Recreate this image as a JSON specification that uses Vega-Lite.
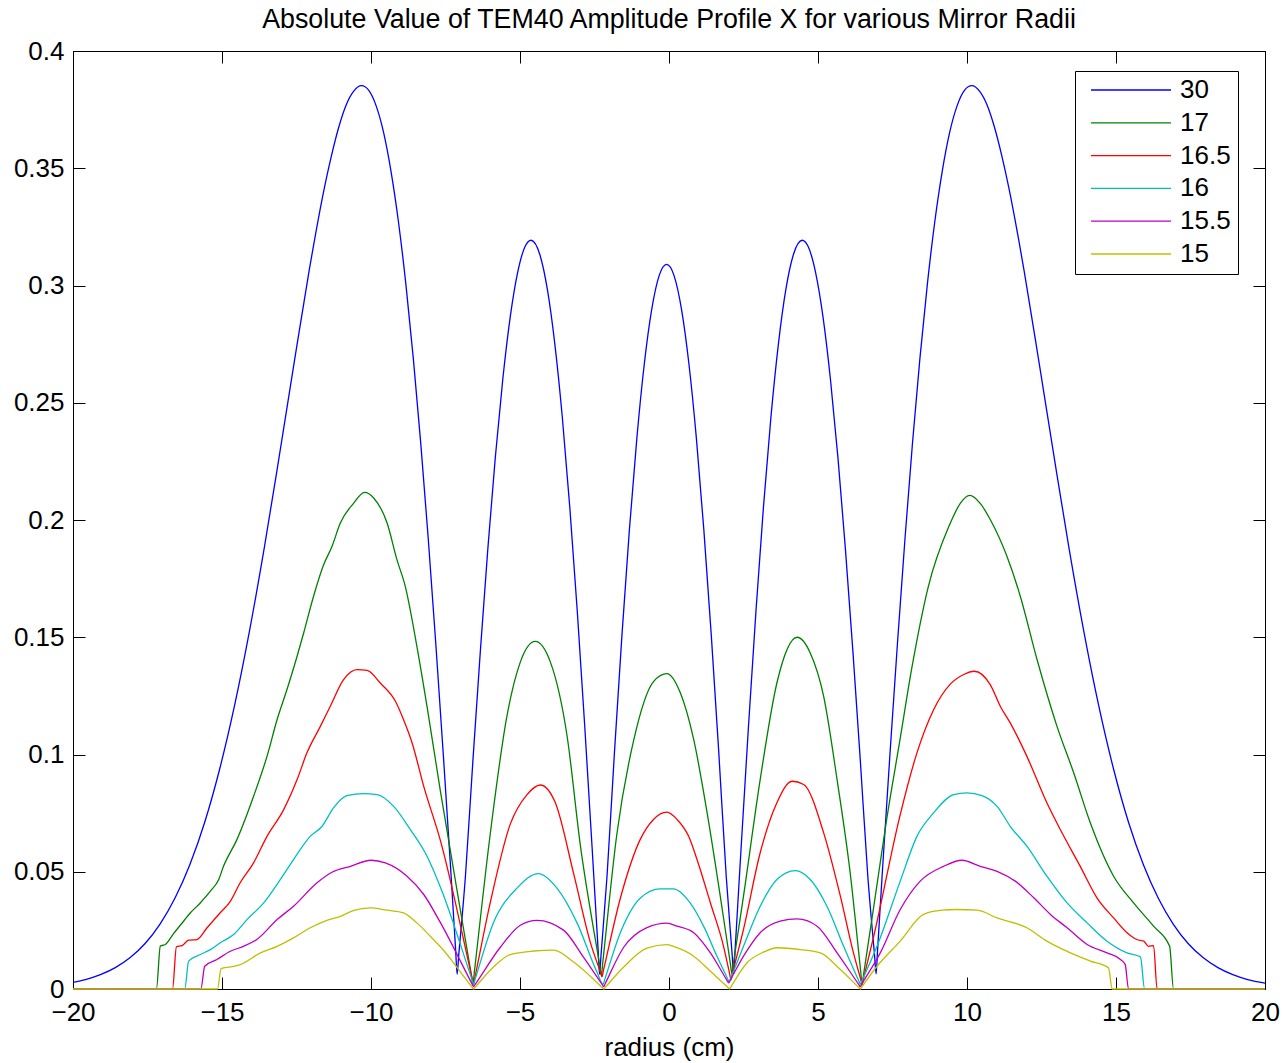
{
"$schema":"https://vega.github.io/schema/vega-lite/v6.json",
"autosize":{"type":"none"},
"width":1192,"height":938,
"padding":{"left":73,"top":51,"right":20,"bottom":74},
"background":"white",
"config":{"font":"Liberation Sans","view":{"stroke":"black","strokeWidth":1}},
"title":{"text":"Absolute Value of TEM40 Amplitude Profile X for various Mirror Radii","fontSize":26.8,"fontWeight":"normal","color":"black","baseline":"alphabetic","offset":-17,"anchor":"middle"},
"data":{"values":[
{"m":"30","r":-20,"a":0.0028},{"m":"30","r":-19.58,"a":0.004},{"m":"30","r":-19.08,"a":0.0061},{"m":"30","r":-18.58,"a":0.0091},{"m":"30","r":-18.08,"a":0.0134},{"m":"30","r":-17.58,"a":0.0194},{"m":"30","r":-17.08,"a":0.0277},{"m":"30","r":-16.58,"a":0.0387},{"m":"30","r":-16.08,"a":0.053},{"m":"30","r":-15.58,"a":0.0711},{"m":"30","r":-15.08,"a":0.0937},{"m":"30","r":-14.58,"a":0.1208},{"m":"30","r":-14.08,"a":0.1525},{"m":"30","r":-13.58,"a":0.1882},{"m":"30","r":-13.08,"a":0.2271},{"m":"30","r":-12.58,"a":0.267},{"m":"30","r":-12.08,"a":0.306},{"m":"30","r":-11.58,"a":0.3407},{"m":"30","r":-11.33,"a":0.3552},{"m":"30","r":-11.08,"a":0.3676},{"m":"30","r":-10.83,"a":0.3771},{"m":"30","r":-10.58,"a":0.3829},{"m":"30","r":-10.32,"a":0.3852},{"m":"30","r":-10.08,"a":0.3833},{"m":"30","r":-9.83,"a":0.3767},{"m":"30","r":-9.58,"a":0.3654},{"m":"30","r":-9.33,"a":0.3488},{"m":"30","r":-9.08,"a":0.3273},{"m":"30","r":-8.83,"a":0.3006},{"m":"30","r":-8.58,"a":0.2689},{"m":"30","r":-8.33,"a":0.2327},{"m":"30","r":-8.08,"a":0.1922},{"m":"30","r":-7.83,"a":0.1481},{"m":"30","r":-7.58,"a":0.1012},{"m":"30","r":-7.33,"a":0.052},{"m":"30","r":-7.16,"a":0.0167},{"m":"30","r":-7.11,"a":0.0063},{"m":"30","r":-7.06,"a":0.0138},{"m":"30","r":-6.83,"a":0.0483},{"m":"30","r":-6.58,"a":0.0975},{"m":"30","r":-6.33,"a":0.1442},{"m":"30","r":-6.08,"a":0.1876},{"m":"30","r":-5.83,"a":0.2265},{"m":"30","r":-5.58,"a":0.2597},{"m":"30","r":-5.33,"a":0.2864},{"m":"30","r":-5.08,"a":0.3055},{"m":"30","r":-4.83,"a":0.3166},{"m":"30","r":-4.63,"a":0.3193},{"m":"30","r":-4.33,"a":0.313},{"m":"30","r":-4.08,"a":0.2982},{"m":"30","r":-3.83,"a":0.2749},{"m":"30","r":-3.58,"a":0.2438},{"m":"30","r":-3.33,"a":0.2056},{"m":"30","r":-3.08,"a":0.1615},{"m":"30","r":-2.83,"a":0.1126},{"m":"30","r":-2.58,"a":0.0602},{"m":"30","r":-2.38,"a":0.017},{"m":"30","r":-2.33,"a":0.0062},{"m":"30","r":-2.28,"a":0.0146},{"m":"30","r":-2.08,"a":0.0481},{"m":"30","r":-1.83,"a":0.101},{"m":"30","r":-1.58,"a":0.1507},{"m":"30","r":-1.33,"a":0.1957},{"m":"30","r":-1.08,"a":0.2347},{"m":"30","r":-0.83,"a":0.2664},{"m":"30","r":-0.58,"a":0.2898},{"m":"30","r":-0.33,"a":0.3042},{"m":"30","r":-0.08,"a":0.309},{"m":"30","r":0.17,"a":0.3042},{"m":"30","r":0.42,"a":0.2898},{"m":"30","r":0.67,"a":0.2664},{"m":"30","r":0.92,"a":0.2347},{"m":"30","r":1.17,"a":0.1957},{"m":"30","r":1.42,"a":0.1507},{"m":"30","r":1.67,"a":0.101},{"m":"30","r":1.92,"a":0.0481},{"m":"30","r":2.12,"a":0.0146},{"m":"30","r":2.17,"a":0.0062},{"m":"30","r":2.22,"a":0.017},{"m":"30","r":2.42,"a":0.0602},{"m":"30","r":2.67,"a":0.1126},{"m":"30","r":2.92,"a":0.1615},{"m":"30","r":3.17,"a":0.2056},{"m":"30","r":3.42,"a":0.2438},{"m":"30","r":3.67,"a":0.2749},{"m":"30","r":3.92,"a":0.2982},{"m":"30","r":4.17,"a":0.313},{"m":"30","r":4.47,"a":0.3193},{"m":"30","r":4.67,"a":0.3166},{"m":"30","r":4.92,"a":0.3055},{"m":"30","r":5.17,"a":0.2864},{"m":"30","r":5.42,"a":0.2597},{"m":"30","r":5.67,"a":0.2265},{"m":"30","r":5.92,"a":0.1876},{"m":"30","r":6.17,"a":0.1442},{"m":"30","r":6.42,"a":0.0975},{"m":"30","r":6.67,"a":0.0483},{"m":"30","r":6.9,"a":0.014},{"m":"30","r":6.95,"a":0.0065},{"m":"30","r":7.0,"a":0.0168},{"m":"30","r":7.17,"a":0.052},{"m":"30","r":7.42,"a":0.1012},{"m":"30","r":7.67,"a":0.1481},{"m":"30","r":7.92,"a":0.1922},{"m":"30","r":8.17,"a":0.2327},{"m":"30","r":8.42,"a":0.2689},{"m":"30","r":8.67,"a":0.3006},{"m":"30","r":8.92,"a":0.3273},{"m":"30","r":9.17,"a":0.3488},{"m":"30","r":9.42,"a":0.3654},{"m":"30","r":9.67,"a":0.3767},{"m":"30","r":9.92,"a":0.3833},{"m":"30","r":10.16,"a":0.3852},{"m":"30","r":10.42,"a":0.3829},{"m":"30","r":10.67,"a":0.3771},{"m":"30","r":10.92,"a":0.3676},{"m":"30","r":11.17,"a":0.3552},{"m":"30","r":11.42,"a":0.3407},{"m":"30","r":11.92,"a":0.306},{"m":"30","r":12.42,"a":0.267},{"m":"30","r":12.92,"a":0.2271},{"m":"30","r":13.42,"a":0.1882},{"m":"30","r":13.92,"a":0.1525},{"m":"30","r":14.42,"a":0.1208},{"m":"30","r":14.92,"a":0.0937},{"m":"30","r":15.42,"a":0.0711},{"m":"30","r":15.92,"a":0.053},{"m":"30","r":16.42,"a":0.0387},{"m":"30","r":16.92,"a":0.0277},{"m":"30","r":17.42,"a":0.0194},{"m":"30","r":17.92,"a":0.0134},{"m":"30","r":18.42,"a":0.0091},{"m":"30","r":18.92,"a":0.0061},{"m":"30","r":19.42,"a":0.004},{"m":"30","r":20,"a":0.0025},

{"m":"17","r":-20,"a":0},{"m":"17","r":-17.2,"a":0},{"m":"17","r":-17.07,"a":0.0183},{"m":"17","r":-16.9,"a":0.019},{"m":"17","r":-16.62,"a":0.0237},{"m":"17","r":-16.29,"a":0.0289},{"m":"17","r":-16.06,"a":0.0325},{"m":"17","r":-15.73,"a":0.0367},{"m":"17","r":-15.39,"a":0.0417},{"m":"17","r":-15.11,"a":0.0467},{"m":"17","r":-14.95,"a":0.0523},{"m":"17","r":-14.5,"a":0.0637},{"m":"17","r":-13.94,"a":0.0822},{"m":"17","r":-13.49,"a":0.0992},{"m":"17","r":-13.15,"a":0.1149},{"m":"17","r":-12.82,"a":0.1277},{"m":"17","r":-12.48,"a":0.1419},{"m":"17","r":-12.26,"a":0.1518},{"m":"17","r":-11.93,"a":0.1674},{"m":"17","r":-11.59,"a":0.1809},{"m":"17","r":-11.31,"a":0.1887},{"m":"17","r":-11.03,"a":0.1987},{"m":"17","r":-10.58,"a":0.2072},{"m":"17","r":-10.22,"a":0.2118},{"m":"17","r":-9.91,"a":0.2094},{"m":"17","r":-9.46,"a":0.1987},{"m":"17","r":-9.13,"a":0.1831},{"m":"17","r":-8.85,"a":0.1717},{"m":"17","r":-8.46,"a":0.1461},{"m":"17","r":-8.12,"a":0.1205},{"m":"17","r":-7.67,"a":0.0843},{"m":"17","r":-6.63,"a":0.0058},{"m":"17","r":-6.58,"a":0.002},{"m":"17","r":-6.53,"a":0.0075},{"m":"17","r":-6.0,"a":0.066},{"m":"17","r":-5.44,"a":0.1163},{"m":"17","r":-4.99,"a":0.1394},{"m":"17","r":-4.49,"a":0.1482},{"m":"17","r":-3.98,"a":0.1394},{"m":"17","r":-3.42,"a":0.1079},{"m":"17","r":-2.98,"a":0.0618},{"m":"17","r":-2.32,"a":0.0097},{"m":"17","r":-2.27,"a":0.0058},{"m":"17","r":-2.22,"a":0.0116},{"m":"17","r":-1.75,"a":0.066},{"m":"17","r":-1.19,"a":0.1058},{"m":"17","r":-0.52,"a":0.1311},{"m":"17","r":-0.07,"a":0.1345},{"m":"17","r":0.38,"a":0.1263},{"m":"17","r":0.83,"a":0.1063},{"m":"17","r":1.28,"a":0.0751},{"m":"17","r":1.72,"a":0.0396},{"m":"17","r":2.06,"a":0.0108},{"m":"17","r":2.11,"a":0.0066},{"m":"17","r":2.16,"a":0.0108},{"m":"17","r":2.5,"a":0.0396},{"m":"17","r":3.06,"a":0.0893},{"m":"17","r":3.62,"a":0.1305},{"m":"17","r":4.3,"a":0.15},{"m":"17","r":4.74,"a":0.1433},{"m":"17","r":5.19,"a":0.1248},{"m":"17","r":5.64,"a":0.0893},{"m":"17","r":6.08,"a":0.0495},{"m":"17","r":6.43,"a":0.0079},{"m":"17","r":6.48,"a":0.002},{"m":"17","r":6.53,"a":0.0062},{"m":"17","r":6.87,"a":0.035},{"m":"17","r":7.3,"a":0.072},{"m":"17","r":7.76,"a":0.107},{"m":"17","r":8.15,"a":0.137},{"m":"17","r":8.7,"a":0.1715},{"m":"17","r":9.4,"a":0.1975},{"m":"17","r":9.78,"a":0.2072},{"m":"17","r":10.09,"a":0.2105},{"m":"17","r":10.45,"a":0.207},{"m":"17","r":10.78,"a":0.2002},{"m":"17","r":11.34,"a":0.1845},{"m":"17","r":11.79,"a":0.1674},{"m":"17","r":12.35,"a":0.1405},{"m":"17","r":13.02,"a":0.112},{"m":"17","r":13.58,"a":0.0922},{"m":"17","r":14.14,"a":0.0708},{"m":"17","r":14.92,"a":0.0481},{"m":"17","r":15.59,"a":0.0367},{"m":"17","r":16.26,"a":0.0268},{"m":"17","r":16.8,"a":0.0182},{"m":"17","r":16.93,"a":0},{"m":"17","r":20,"a":0},

{"m":"16.5","r":-20,"a":0},{"m":"16.5","r":-16.66,"a":0},{"m":"16.5","r":-16.53,"a":0.018},{"m":"16.5","r":-16.34,"a":0.0185},{"m":"16.5","r":-16.12,"a":0.0208},{"m":"16.5","r":-15.84,"a":0.0211},{"m":"16.5","r":-15.5,"a":0.0261},{"m":"16.5","r":-15.06,"a":0.0325},{"m":"16.5","r":-14.72,"a":0.0374},{"m":"16.5","r":-14.39,"a":0.0453},{"m":"16.5","r":-13.94,"a":0.0538},{"m":"16.5","r":-13.49,"a":0.0651},{"m":"16.5","r":-12.93,"a":0.0765},{"m":"16.5","r":-12.48,"a":0.0893},{"m":"16.5","r":-12.15,"a":0.1007},{"m":"16.5","r":-11.7,"a":0.112},{"m":"16.5","r":-11.37,"a":0.1205},{"m":"16.5","r":-10.92,"a":0.1319},{"m":"16.5","r":-10.47,"a":0.1362},{"m":"16.5","r":-10.13,"a":0.1359},{"m":"16.5","r":-9.69,"a":0.1305},{"m":"16.5","r":-9.18,"a":0.1227},{"m":"16.5","r":-8.91,"a":0.1149},{"m":"16.5","r":-8.62,"a":0.1049},{"m":"16.5","r":-8.23,"a":0.0864},{"m":"16.5","r":-7.67,"a":0.0633},{"m":"16.5","r":-6.61,"a":0.0048},{"m":"16.5","r":-6.56,"a":0.002},{"m":"16.5","r":-6.51,"a":0.0051},{"m":"16.5","r":-6.0,"a":0.0367},{"m":"16.5","r":-5.33,"a":0.0702},{"m":"16.5","r":-4.77,"a":0.0828},{"m":"16.5","r":-4.32,"a":0.087},{"m":"16.5","r":-3.82,"a":0.0796},{"m":"16.5","r":-3.2,"a":0.0492},{"m":"16.5","r":-2.64,"a":0.0199},{"m":"16.5","r":-2.3,"a":0.0071},{"m":"16.5","r":-2.25,"a":0.0052},{"m":"16.5","r":-2.2,"a":0.0079},{"m":"16.5","r":-1.63,"a":0.0388},{"m":"16.5","r":-0.96,"a":0.0639},{"m":"16.5","r":-0.52,"a":0.0723},{"m":"16.5","r":-0.07,"a":0.0754},{"m":"16.5","r":0.27,"a":0.0723},{"m":"16.5","r":0.66,"a":0.0651},{"m":"16.5","r":0.94,"a":0.0552},{"m":"16.5","r":1.39,"a":0.0367},{"m":"16.5","r":1.83,"a":0.0182},{"m":"16.5","r":2.03,"a":0.0068},{"m":"16.5","r":2.08,"a":0.004},{"m":"16.5","r":2.13,"a":0.0066},{"m":"16.5","r":2.5,"a":0.0254},{"m":"16.5","r":3.06,"a":0.0581},{"m":"16.5","r":3.62,"a":0.0794},{"m":"16.5","r":4.13,"a":0.0886},{"m":"16.5","r":4.52,"a":0.0872},{"m":"16.5","r":5.19,"a":0.0666},{"m":"16.5","r":5.75,"a":0.0396},{"m":"16.5","r":6.19,"a":0.0154},{"m":"16.5","r":6.43,"a":0.0043},{"m":"16.5","r":6.48,"a":0.002},{"m":"16.5","r":6.53,"a":0.0046},{"m":"16.5","r":6.87,"a":0.0225},{"m":"16.5","r":7.76,"a":0.0744},{"m":"16.5","r":8.32,"a":0.1007},{"m":"16.5","r":8.88,"a":0.1191},{"m":"16.5","r":9.44,"a":0.13},{"m":"16.5","r":9.89,"a":0.1341},{"m":"16.5","r":10.24,"a":0.1355},{"m":"16.5","r":10.78,"a":0.1298},{"m":"16.5","r":11.12,"a":0.1205},{"m":"16.5","r":11.45,"a":0.1135},{"m":"16.5","r":12.01,"a":0.0992},{"m":"16.5","r":12.68,"a":0.0794},{"m":"16.5","r":13.13,"a":0.068},{"m":"16.5","r":13.8,"a":0.0523},{"m":"16.5","r":14.36,"a":0.0389},{"m":"16.5","r":14.92,"a":0.0303},{"m":"16.5","r":15.37,"a":0.024},{"m":"16.5","r":15.7,"a":0.0211},{"m":"16.5","r":15.93,"a":0.0204},{"m":"16.5","r":16.09,"a":0.0182},{"m":"16.5","r":16.26,"a":0.0185},{"m":"16.5","r":16.38,"a":0},{"m":"16.5","r":20,"a":0},

{"m":"16","r":-20,"a":0},{"m":"16","r":-16.25,"a":0},{"m":"16","r":-16.12,"a":0.0119},{"m":"16","r":-15.73,"a":0.0147},{"m":"16","r":-15.39,"a":0.0168},{"m":"16","r":-15.06,"a":0.0197},{"m":"16","r":-14.61,"a":0.0232},{"m":"16","r":-14.16,"a":0.0296},{"m":"16","r":-13.6,"a":0.0367},{"m":"16","r":-13.04,"a":0.0467},{"m":"16","r":-12.6,"a":0.0552},{"m":"16","r":-12.04,"a":0.0651},{"m":"16","r":-11.64,"a":0.0694},{"m":"16","r":-11.26,"a":0.0772},{"m":"16","r":-10.81,"a":0.0825},{"m":"16","r":-10.25,"a":0.0833},{"m":"16","r":-9.8,"a":0.0829},{"m":"16","r":-9.24,"a":0.0779},{"m":"16","r":-8.68,"a":0.068},{"m":"16","r":-8.12,"a":0.0566},{"m":"16","r":-7.67,"a":0.0434},{"m":"16","r":-6.61,"a":0.0039},{"m":"16","r":-6.56,"a":0.002},{"m":"16","r":-6.51,"a":0.004},{"m":"16","r":-5.89,"a":0.0283},{"m":"16","r":-5.1,"a":0.043},{"m":"16","r":-4.38,"a":0.0492},{"m":"16","r":-3.76,"a":0.043},{"m":"16","r":-3.09,"a":0.0283},{"m":"16","r":-2.42,"a":0.0073},{"m":"16","r":-2.21,"a":0.002},{"m":"16","r":-2.16,"a":0.0039},{"m":"16","r":-1.63,"a":0.0241},{"m":"16","r":-0.96,"a":0.0388},{"m":"16","r":-0.29,"a":0.0427},{"m":"16","r":0.15,"a":0.0427},{"m":"16","r":0.71,"a":0.0367},{"m":"16","r":1.16,"a":0.0268},{"m":"16","r":1.61,"a":0.014},{"m":"16","r":1.97,"a":0.0043},{"m":"16","r":2.02,"a":0.003},{"m":"16","r":2.07,"a":0.0046},{"m":"16","r":2.5,"a":0.0182},{"m":"16","r":3.06,"a":0.0353},{"m":"16","r":3.62,"a":0.0467},{"m":"16","r":4.24,"a":0.0505},{"m":"16","r":4.74,"a":0.0467},{"m":"16","r":5.3,"a":0.0353},{"m":"16","r":5.86,"a":0.0182},{"m":"16","r":6.37,"a":0.0034},{"m":"16","r":6.42,"a":0.002},{"m":"16","r":6.47,"a":0.0034},{"m":"16","r":6.98,"a":0.0182},{"m":"16","r":7.76,"a":0.046},{"m":"16","r":8.32,"a":0.0651},{"m":"16","r":8.88,"a":0.0751},{"m":"16","r":9.55,"a":0.0829},{"m":"16","r":10.0,"a":0.0836},{"m":"16","r":10.5,"a":0.0825},{"m":"16","r":11.01,"a":0.0779},{"m":"16","r":11.45,"a":0.0694},{"m":"16","r":12.01,"a":0.0609},{"m":"16","r":12.68,"a":0.0481},{"m":"16","r":13.36,"a":0.0367},{"m":"16","r":14.03,"a":0.0282},{"m":"16","r":14.7,"a":0.0204},{"m":"16","r":15.37,"a":0.0154},{"m":"16","r":15.82,"a":0.0137},{"m":"16","r":15.96,"a":0},{"m":"16","r":20,"a":0},

{"m":"15.5","r":-20,"a":0},{"m":"15.5","r":-15.71,"a":0},{"m":"15.5","r":-15.58,"a":0.0097},{"m":"15.5","r":-15.17,"a":0.0126},{"m":"15.5","r":-14.72,"a":0.0161},{"m":"15.5","r":-14.28,"a":0.0182},{"m":"15.5","r":-13.83,"a":0.0211},{"m":"15.5","r":-13.15,"a":0.0296},{"m":"15.5","r":-12.6,"a":0.0353},{"m":"15.5","r":-11.81,"a":0.0453},{"m":"15.5","r":-11.31,"a":0.0498},{"m":"15.5","r":-10.69,"a":0.0523},{"m":"15.5","r":-10.0,"a":0.0549},{"m":"15.5","r":-9.52,"a":0.0538},{"m":"15.5","r":-8.79,"a":0.0481},{"m":"15.5","r":-8.23,"a":0.0403},{"m":"15.5","r":-7.67,"a":0.0283},{"m":"15.5","r":-6.61,"a":0.0022},{"m":"15.5","r":-6.56,"a":0.001},{"m":"15.5","r":-6.51,"a":0.0019},{"m":"15.5","r":-5.66,"a":0.0178},{"m":"15.5","r":-4.99,"a":0.0272},{"m":"15.5","r":-4.43,"a":0.0293},{"m":"15.5","r":-3.54,"a":0.0251},{"m":"15.5","r":-2.87,"a":0.0136},{"m":"15.5","r":-2.24,"a":0.0019},{"m":"15.5","r":-2.19,"a":0.001},{"m":"15.5","r":-2.14,"a":0.0023},{"m":"15.5","r":-1.52,"a":0.0178},{"m":"15.5","r":-0.74,"a":0.0262},{"m":"15.5","r":-0.07,"a":0.0281},{"m":"15.5","r":0.27,"a":0.0268},{"m":"15.5","r":0.83,"a":0.024},{"m":"15.5","r":1.39,"a":0.0154},{"m":"15.5","r":1.95,"a":0.0036},{"m":"15.5","r":2.0,"a":0.0026},{"m":"15.5","r":2.05,"a":0.0037},{"m":"15.5","r":2.5,"a":0.014},{"m":"15.5","r":3.06,"a":0.024},{"m":"15.5","r":3.73,"a":0.0289},{"m":"15.5","r":4.3,"a":0.0299},{"m":"15.5","r":4.97,"a":0.0268},{"m":"15.5","r":5.64,"a":0.0154},{"m":"15.5","r":6.37,"a":0.0019},{"m":"15.5","r":6.42,"a":0.001},{"m":"15.5","r":6.47,"a":0.0021},{"m":"15.5","r":7.09,"a":0.0154},{"m":"15.5","r":7.76,"a":0.0339},{"m":"15.5","r":8.43,"a":0.046},{"m":"15.5","r":9.21,"a":0.0523},{"m":"15.5","r":9.83,"a":0.0549},{"m":"15.5","r":10.45,"a":0.0523},{"m":"15.5","r":11.01,"a":0.0502},{"m":"15.5","r":11.62,"a":0.046},{"m":"15.5","r":12.24,"a":0.0389},{"m":"15.5","r":12.8,"a":0.0318},{"m":"15.5","r":13.36,"a":0.0261},{"m":"15.5","r":14.03,"a":0.019},{"m":"15.5","r":14.7,"a":0.0154},{"m":"15.5","r":15.15,"a":0.0126},{"m":"15.5","r":15.31,"a":0.0104},{"m":"15.5","r":15.42,"a":0},{"m":"15.5","r":20,"a":0},

{"m":"15","r":-20,"a":0},{"m":"15","r":-15.15,"a":0},{"m":"15","r":-15.03,"a":0.0087},{"m":"15","r":-14.72,"a":0.0094},{"m":"15","r":-14.39,"a":0.0104},{"m":"15","r":-13.71,"a":0.0154},{"m":"15","r":-13.15,"a":0.0182},{"m":"15","r":-12.6,"a":0.0218},{"m":"15","r":-12.04,"a":0.0261},{"m":"15","r":-11.48,"a":0.0293},{"m":"15","r":-11.03,"a":0.031},{"m":"15","r":-10.58,"a":0.0335},{"m":"15","r":-10.02,"a":0.0346},{"m":"15","r":-9.46,"a":0.0336},{"m":"15","r":-8.91,"a":0.0325},{"m":"15","r":-8.46,"a":0.0282},{"m":"15","r":-8.01,"a":0.0225},{"m":"15","r":-7.67,"a":0.018},{"m":"15","r":-6.61,"a":0.0008},{"m":"15","r":-6.56,"a":0},{"m":"15","r":-6.51,"a":0.0007},{"m":"15","r":-5.89,"a":0.0094},{"m":"15","r":-5.33,"a":0.0147},{"m":"15","r":-4.54,"a":0.0162},{"m":"15","r":-3.87,"a":0.0166},{"m":"15","r":-3.2,"a":0.0115},{"m":"15","r":-2.24,"a":0.0006},{"m":"15","r":-2.19,"a":0},{"m":"15","r":-2.14,"a":0.0007},{"m":"15","r":-1.52,"a":0.0094},{"m":"15","r":-0.74,"a":0.0174},{"m":"15","r":-0.07,"a":0.0189},{"m":"15","r":0.15,"a":0.0182},{"m":"15","r":0.83,"a":0.014},{"m":"15","r":1.39,"a":0.0076},{"m":"15","r":1.98,"a":0.0006},{"m":"15","r":2.03,"a":0},{"m":"15","r":2.08,"a":0.001},{"m":"15","r":2.62,"a":0.0112},{"m":"15","r":3.17,"a":0.0157},{"m":"15","r":3.62,"a":0.0176},{"m":"15","r":4.41,"a":0.0168},{"m":"15","r":5.08,"a":0.0154},{"m":"15","r":5.75,"a":0.0083},{"m":"15","r":6.37,"a":0.0006},{"m":"15","r":6.42,"a":0},{"m":"15","r":6.47,"a":0.0009},{"m":"15","r":6.98,"a":0.0097},{"m":"15","r":7.76,"a":0.0204},{"m":"15","r":8.54,"a":0.0318},{"m":"15","r":9.16,"a":0.0336},{"m":"15","r":9.66,"a":0.0339},{"m":"15","r":10.34,"a":0.0336},{"m":"15","r":11.01,"a":0.0303},{"m":"15","r":12.01,"a":0.0261},{"m":"15","r":12.68,"a":0.0204},{"m":"15","r":13.47,"a":0.0154},{"m":"15","r":14.14,"a":0.0119},{"m":"15","r":14.75,"a":0.009},{"m":"15","r":14.87,"a":0},{"m":"15","r":20,"a":0}
]},
"layer":[
{"mark":{"type":"line","strokeWidth":1.3,"interpolate":"monotone"},
 "encoding":{
  "x":{"field":"r","type":"quantitative","scale":{"domain":[-20,20],"nice":false,"zero":false},
       "axis":{"orient":"bottom","values":[-20,-15,-10,-5,0,5,10,15,20],"tickSize":-12,"tickColor":"black","tickWidth":1,"domainColor":"black","labelPadding":22,"labelFontSize":26,"labelColor":"black","labelFlush":false,"labelOverlap":false,"labelBound":false,"grid":false,"title":"radius (cm)","titleFontSize":26,"titleFontWeight":"normal","titleColor":"black","titlePadding":9}},
  "y":{"field":"a","type":"quantitative","scale":{"domain":[0,0.4],"nice":false},
       "axis":{"orient":"left","values":[0,0.05,0.1,0.15,0.2,0.25,0.3,0.35,0.4],"format":"~g","tickSize":-12,"tickColor":"black","tickWidth":1,"domainColor":"black","labelPadding":21,"labelFontSize":26,"labelColor":"black","labelFlush":false,"labelOverlap":false,"labelBound":false,"grid":false,"title":null}},
  "color":{"field":"m","type":"nominal","scale":{"domain":["30","17","16.5","16","15.5","15"],"range":["#0000ff","#008000","#ff0000","#00bfbf","#bf00bf","#bfbf00"]},
       "legend":{"orient":"none","legendX":1002,"legendY":20,"title":null,"symbolType":"stroke","symbolSize":6400,"symbolStrokeWidth":1.3,"clipHeight":24,"rowPadding":6.8,"symbolOffset":8,"labelOffset":8,"labelFontSize":26,"labelColor":"black","padding":7,"strokeColor":"black","fillColor":"white"}}
 }},
{"mark":{"type":"point","opacity":0},
 "encoding":{
  "x":{"field":"r","type":"quantitative","axis":{"orient":"top","values":[-20,-15,-10,-5,0,5,10,15,20],"tickSize":-12,"tickColor":"black","domainColor":"black","labels":false,"grid":false,"title":null}},
  "y":{"field":"a","type":"quantitative","axis":{"orient":"right","values":[0,0.05,0.1,0.15,0.2,0.25,0.3,0.35,0.4],"tickSize":-12,"tickColor":"black","domainColor":"black","labels":false,"grid":false,"title":null}}
 }}
],
"resolve":{"axis":{"x":"independent","y":"independent"}}
}
